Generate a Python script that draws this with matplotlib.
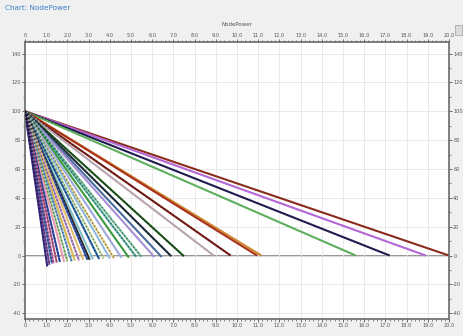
import matplotlib
matplotlib.use("Agg")
import matplotlib.pyplot as plt
from matplotlib.ticker import MultipleLocator, FuncFormatter
from matplotlib.patches import Rectangle

# Power curves: every curve starts at (0, 100) and ends at (x_end, y_end)
start_x = 0.0
start_y = 100.0
x_end = [20.0, 18.9, 17.2, 15.6, 11.15, 10.95, 9.7, 8.9, 7.5, 6.9,
         6.45, 6.1, 5.5, 5.25, 4.9, 4.55, 4.2, 4.0, 3.7, 3.5,
         3.2, 3.05, 2.95, 2.75, 2.55, 2.35, 2.2, 2.0, 1.85, 1.65,
         1.5, 1.35, 1.27, 1.15, 1.05]
y_end = [0.0, 0.0, 0.0, 0.0, 0.0, 0.0, 0.0, 0.0, -0.5, -0.5,
         -1.0, -1.0, -1.0, -1.0, -1.5, -1.5, -2.0, -2.0, -2.0, -2.5,
         -2.5, -3.0, -3.0, -3.0, -3.5, -3.5, -4.0, -4.0, -4.5, -4.5,
         -5.0, -5.5, -5.5, -6.5, -7.5]
line_colors = ["#8a2c1c", "#b466d6", "#24205a", "#5eae5e", "#d0882e", "#a8321e",
               "#7e1c16", "#b8a4ae", "#1e5a1c", "#20303c", "#4a6c9c", "#a890d6",
               "#7ec8a4", "#56b4a0", "#3c9a3c", "#a0a8e0", "#e8d482", "#90b8e0",
               "#c4e4a4", "#2a6ab0", "#84c0c8", "#303030", "#3a5ab8", "#e0c070",
               "#c090d0", "#d8b850", "#70a8d8", "#a0d090", "#e89ab0", "#3050b0",
               "#c06090", "#d070b0", "#5070c0", "#8050a0", "#3a2a8a"]
dotted = [False, False, True, False, False, False, True, False, True, True,
          False, False, True, True, False, False, True, False, True, True,
          False, True, True, False, True, False, True, True, False, True,
          True, True, True, True, True]

fig = plt.figure(figsize=(4.64, 3.36), dpi=100, facecolor="#f0f0f0")
ax = fig.add_axes([25 / 464, 1 - 319 / 336, 424 / 464, 277 / 336])
ax.set_facecolor("white")

ax.set_xlim(0, 20)
ax.set_ylim(-44, 148)

ax.grid(True, color="#e6e6e6", lw=0.6, zorder=0)
ax.axhline(0, color="#8c8c8c", lw=1.3, zorder=1)

for xe, ye, c, d in zip(x_end, y_end, line_colors, dotted):
    ax.plot([start_x, xe], [start_y, ye], color=c, lw=1.5,
            solid_capstyle="butt", zorder=2)
    if d:
        ax.plot([start_x, xe], [start_y, ye], color="#111111", lw=1.0,
                linestyle=(0, (1, 1.6)), alpha=0.5, zorder=3)

ax.xaxis.set_major_locator(MultipleLocator(1))
ax.xaxis.set_minor_locator(MultipleLocator(0.2))
ax.yaxis.set_major_locator(MultipleLocator(20))
ax.yaxis.set_minor_locator(MultipleLocator(10))
ax.xaxis.set_major_formatter(FuncFormatter(lambda v, p: "0" if v == 0 else f"{v:.1f}"))
ax.yaxis.set_major_formatter(FuncFormatter(lambda v, p: f"{v:.0f}"))

ax.tick_params(which="both", top=True, right=True, labeltop=True, labelright=True,
               labelsize=3.6, colors="#555555", direction="out")
ax.tick_params(which="major", length=2.0, width=0.6, pad=1.0)
ax.tick_params(which="minor", length=1.3, width=0.5)

for s in ax.spines.values():
    s.set_color("#6a6a6a")
    s.set_linewidth(1.2)

fig.text(5 / 464, 1 - 8 / 336, "Chart: NodePower", color="#3a7fc8",
         fontsize=5.2, ha="left", va="center")
fig.text((25 + 449) / 2 / 464, 1 - 24 / 336, "NodePower", color="#555555",
         fontsize=4.0, ha="center", va="center")
fig.patches.append(Rectangle((455 / 464, 1 - 35 / 336), 7 / 464, 10 / 336,
                             transform=fig.transFigure, facecolor="#dcdcdc",
                             edgecolor="#a0a0a0", lw=0.5))

fig.savefig("out.png", dpi=100, facecolor=fig.get_facecolor())
